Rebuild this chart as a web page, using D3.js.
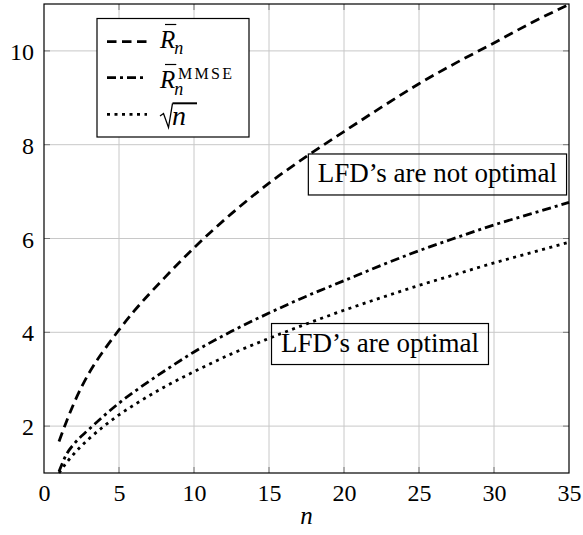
<!DOCTYPE html>
<html>
<head>
<meta charset="utf-8">
<script src="https://cdn.jsdelivr.net/npm/d3@7"></script>
<style>
  body { margin: 0; background: #fff; }
  svg text { font-family: "Liberation Serif", "DejaVu Serif", serif; fill: #000; }
</style>
</head>
<body>
<div id="chart"></div>
<script>
// values
const nValues = [1, 1.5, 2, 3, 4, 5, 6, 8, 10, 12.5, 15, 17.5, 20, 22.5, 25, 27.5, 30, 32.5, 35];
const rBar = [1.67, 2.1, 2.49, 3.13, 3.62, 4.05, 4.45, 5.15, 5.8, 6.53, 7.18, 7.75, 8.28, 8.8, 9.3, 9.75, 10.17, 10.6, 10.99];
const rMmse = [1.03, 1.4, 1.62, 1.93, 2.22, 2.49, 2.73, 3.17, 3.58, 4.02, 4.41, 4.77, 5.1, 5.43, 5.74, 6.02, 6.29, 6.53, 6.77];
const sqrtN = [1, 1.22, 1.41, 1.73, 2, 2.24, 2.45, 2.83, 3.16, 3.54, 3.87, 4.18, 4.47, 4.74, 5, 5.24, 5.48, 5.7, 5.92];

const xTicks = [0, 5, 10, 15, 20, 25, 30, 35];
const yTicks = [2, 4, 6, 8, 10];

const notes = [
  { label: "LFD\u2019s are not optimal", n: 26.23, v: 7.365 },
  { label: "LFD\u2019s are optimal", n: 22.4, v: 3.75 }
];

const margin = { top: 4, right: 14, bottom: 62, left: 44 };
const width = 583 - margin.left - margin.right;
const height = 535 - margin.top - margin.bottom;

const svg = d3.select("#chart").append("svg")
    .attr("width", 583)
    .attr("height", 535)
  .append("g")
    .attr("transform", "translate(" + margin.left + "," + margin.top + ")");

const x = d3.scaleLinear().domain([0, 35]).range([0, width]);
const y = d3.scaleLinear().domain([1, 11]).range([height, 0]);

// grid
svg.append("g").selectAll("line")
    .data(xTicks.slice(1, -1))
  .enter().append("line")
    .attr("x1", d => x(d)).attr("x2", d => x(d))
    .attr("y1", 0).attr("y2", height)
    .style("stroke", "#c8c8c8").style("stroke-width", 1);

svg.append("g").selectAll("line")
    .data(yTicks)
  .enter().append("line")
    .attr("x1", 0).attr("x2", width)
    .attr("y1", d => y(d)).attr("y2", d => y(d))
    .style("stroke", "#c8c8c8").style("stroke-width", 1);

// inner ticks on all four sides
const tickLen = 6;
const tickG = svg.append("g").style("stroke", "#777").style("stroke-width", 1);
xTicks.slice(1, -1).forEach(d => {
  tickG.append("line").attr("x1", x(d)).attr("x2", x(d)).attr("y1", height).attr("y2", height - tickLen);
  tickG.append("line").attr("x1", x(d)).attr("x2", x(d)).attr("y1", 0).attr("y2", tickLen);
});
yTicks.forEach(d => {
  tickG.append("line").attr("x1", 0).attr("x2", tickLen).attr("y1", y(d)).attr("y2", y(d));
  tickG.append("line").attr("x1", width).attr("x2", width - tickLen).attr("y1", y(d)).attr("y2", y(d));
});

// tick labels
const xAxis = d3.axisBottom(x).tickValues(xTicks).tickSize(0).tickPadding(10);
const yAxis = d3.axisLeft(y).tickValues(yTicks).tickSize(0).tickPadding(10);

svg.append("g")
    .attr("transform", "translate(0," + height + ")")
    .call(xAxis)
    .attr("font-family", null)
    .call(g => g.select(".domain").remove())
    .selectAll("text")
    .style("font-size", "24px")
    .attr("dy", "0.75em");

svg.append("g")
    .call(yAxis)
    .attr("font-family", null)
    .call(g => g.select(".domain").remove())
    .selectAll("text")
    .style("font-size", "24px")
    .attr("dy", "0.36em");

svg.append("text")
    .attr("x", width / 2)
    .attr("y", height + 51)
    .attr("text-anchor", "middle")
    .style("font-size", "25px")
    .style("font-style", "italic")
    .text("n");

// curves
const series = [
  { values: rBar, dash: "9.5,5.5" },
  { values: rMmse, dash: "9,4,3,4" },
  { values: sqrtN, dash: "3,4.5" }
];

const line = d3.line()
    .x(d => x(d[0]))
    .y(d => y(d[1]))
    .curve(d3.curveMonotoneX);

series.forEach(s => {
  svg.append("path")
      .datum(nValues.map((n, i) => [n, s.values[i]]))
      .attr("d", line)
      .style("fill", "none")
      .style("stroke", "#000")
      .style("stroke-width", 2.8)
      .style("stroke-dasharray", s.dash);
});

// frame
svg.append("rect")
    .attr("width", width)
    .attr("height", height)
    .style("fill", "none")
    .style("stroke", "#000")
    .style("stroke-width", 1.2);

// annotation boxes (unfilled)
notes.forEach(a => {
  const t = svg.append("text")
      .attr("x", x(a.n))
      .attr("y", y(a.v) + 8)
      .attr("text-anchor", "middle")
      .style("font-size", "27px")
      .text(a.label);
  const w = t.node().getComputedTextLength();
  svg.append("rect")
      .attr("x", x(a.n) - w / 2 - 9.5)
      .attr("y", y(a.v) - 20.5)
      .attr("width", w + 19)
      .attr("height", 41)
      .style("fill", "none")
      .style("stroke", "#000")
      .style("stroke-width", 1.2);
});

// legend
const lg = d3.select("svg").append("g");
lg.append("rect")
    .attr("x", 97).attr("y", 18.5)
    .attr("width", 152).attr("height", 118.5)
    .style("fill", "#fff")
    .style("stroke", "#000")
    .style("stroke-width", 1.2);

const rowY = [41.7, 77.7, 114.3];
series.forEach((s, i) => {
  lg.append("line")
      .attr("x1", 107).attr("x2", 147)
      .attr("y1", rowY[i]).attr("y2", rowY[i])
      .style("stroke", "#000")
      .style("stroke-width", 2.8)
      .style("stroke-dasharray", s.dash);
});

function rBarLabel(bx, by) {
  const r = lg.append("text")
      .attr("x", bx).attr("y", by)
      .style("font-size", "25px")
      .style("font-style", "italic")
      .text("R");
  const rw = r.node().getComputedTextLength();
  lg.append("line")
      .attr("x1", bx + 5).attr("x2", bx + rw + 1)
      .attr("y1", by - 23.5).attr("y2", by - 23.5)
      .style("stroke", "#000").style("stroke-width", 1.2);
  return rw;
}

let rw = rBarLabel(160, 48);
lg.append("text")
    .attr("x", 160 + rw - 1).attr("y", 54)
    .style("font-size", "18px")
    .style("font-style", "italic")
    .text("n");

rw = rBarLabel(160, 88);
lg.append("text")
    .attr("x", 160 + rw - 1).attr("y", 95)
    .style("font-size", "18px")
    .style("font-style", "italic")
    .text("n");
lg.append("text")
    .attr("x", 178).attr("y", 79)
    .attr("textLength", 54)
    .style("font-size", "16px")
    .text("MMSE");

lg.append("path")
    .attr("d", "M160,116 L163.5,113.5 L168.5,127.5 L172.5,103.3")
    .style("fill", "none")
    .style("stroke", "#000")
    .style("stroke-width", 1.3);
lg.append("line")
    .attr("x1", 172.5).attr("x2", 197)
    .attr("y1", 103.3).attr("y2", 103.3)
    .style("stroke", "#000").style("stroke-width", 2);
lg.append("text")
    .attr("x", 172).attr("y", 125)
    .style("font-size", "28px")
    .style("font-style", "italic")
    .text("n");
</script>
</body>
</html>
